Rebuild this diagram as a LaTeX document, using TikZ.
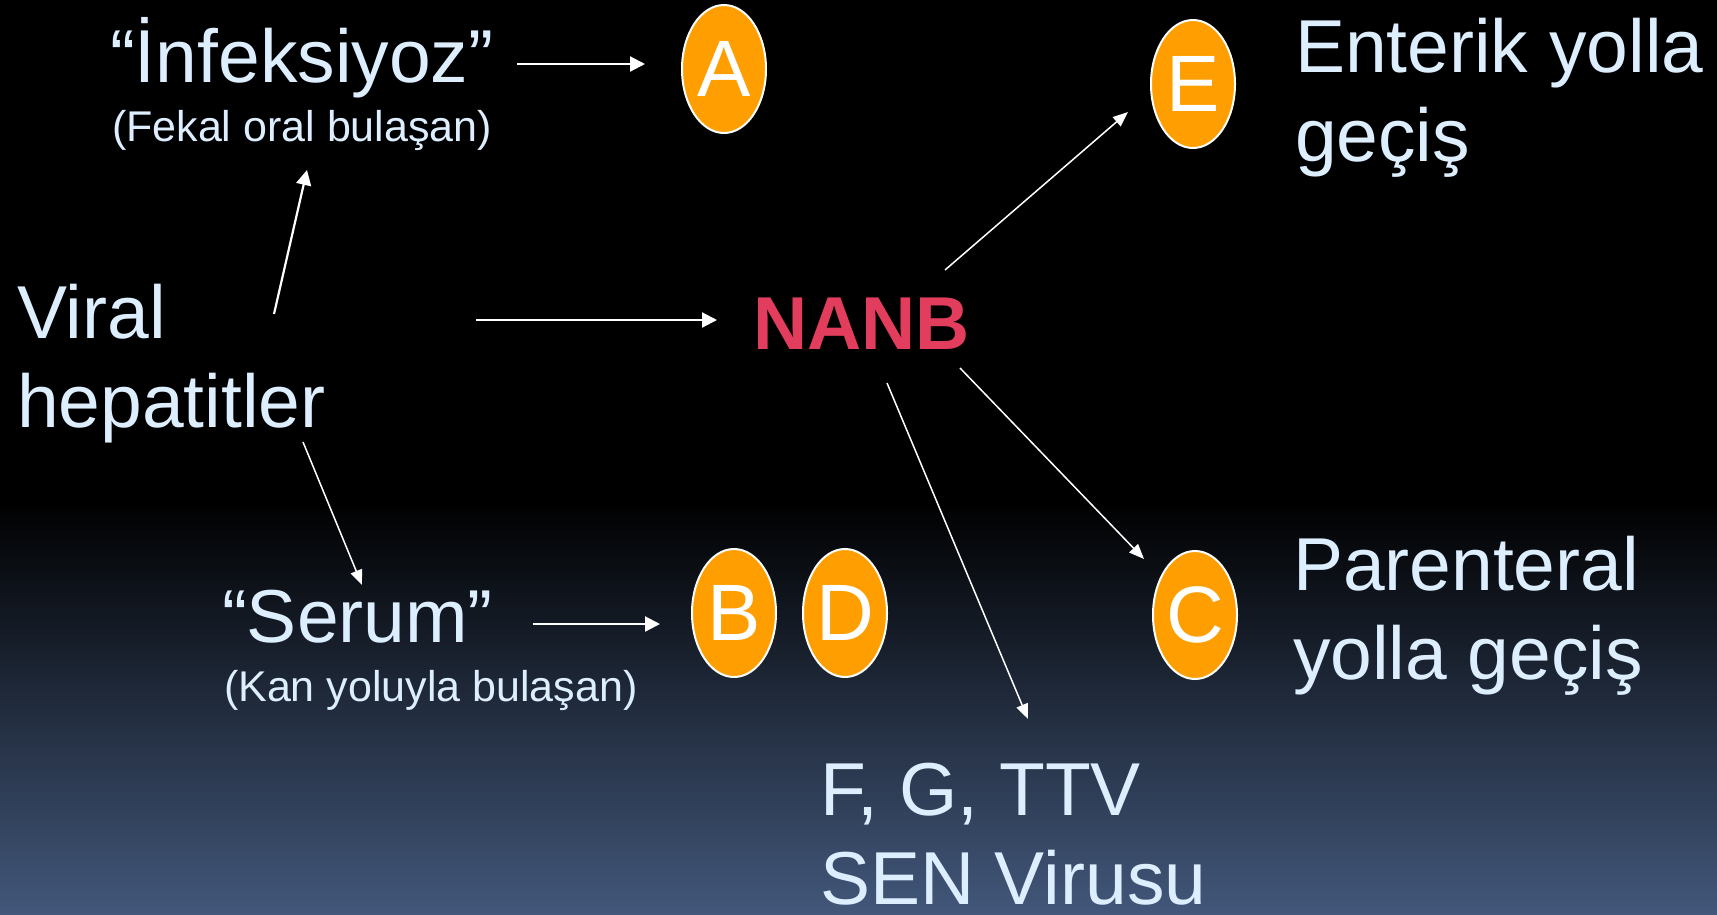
\documentclass[tikz,border=0pt]{standalone}
\usepackage{fontspec}
\setmainfont{Liberation Sans}
\usetikzlibrary{calc,arrows.meta,shapes.geometric}
\definecolor{txtc}{RGB}{221,238,255}
\definecolor{orng}{RGB}{255,158,0}
\definecolor{nanbc}{RGB}{227,61,94}
\definecolor{bgbot}{RGB}{66,87,122}
\newcommand{\twoline}[2]{\vtop{\hbox{#1}\hbox{#2}}}
\begin{document}
\begin{tikzpicture}[x=1pt,y=-1pt,
  lbl/.style={anchor=base west, inner sep=0pt, outer sep=0pt, text=txtc, font=\fontsize{75}{89}\selectfont},
  sub/.style={anchor=base west, inner sep=0pt, outer sep=0pt, text=txtc, font=\fontsize{43}{50}\selectfont},
  virus/.style={ellipse, draw=white, line width=2pt, fill=orng, minimum width=84pt, minimum height=128pt, inner sep=0pt, outer sep=0pt, text=white, font=\fontsize{80}{96}\selectfont},
  arr/.style={draw=white, line width=2.2pt, -{Triangle[length=15pt,width=15pt]}},
  arrd/.style={draw=white, line width=1.5pt, -{Triangle[length=15pt,width=12pt]}},
]
\useasboundingbox (0,0) rectangle (1717,914);
\fill[black] (0,0) rectangle (1717,500);
\shade[top color=black, bottom color=bgbot] (0,500) rectangle (1717,914);

% text nodes
\node[lbl] (inf) at (110,82) {“İnfeksiyoz”};
\node[sub] (fek) at (112,141) {(Fekal oral bulaşan)};
\node[lbl] (viral) at (17,338) {\twoline{Viral}{hepatitler}};
\node[lbl, text=nanbc, font=\fontsize{75}{89}\selectfont\bfseries] (nanb) at (753,349) {NANB};
\node[lbl] (enter) at (1295,72) {\twoline{Enterik yolla}{geçiş}};
\node[lbl] (serum) at (222,642) {“Serum”};
\node[sub] (kan) at (224,701) {(Kan yoluyla bulaşan)};
\node[lbl] (paren) at (1293,590) {\twoline{Parenteral}{yolla geçiş}};
\node[lbl] (fg) at (820,815) {\twoline{F, G, TTV}{SEN Virusu}};

% virus ellipses
\node[virus] (ea) at (724,69) {A};
\node[virus] (ee) at (1193,84) {E};
\node[virus] (eb) at (734,613) {B};
\node[virus] (ed) at (845,613) {D};
\node[virus] (ec) at (1195,615) {C};

% connectors
\draw[arr] ($(inf.base west)+(407,-18)$) -- ($(ea.west)+(-37,-5)$);
\draw[arr] ($(viral.base west)+(257,-24)$) -- ($(fek.base west)+(195,29)$);
\draw[arr] ($(viral.base west)+(459,-18)$) -- ($(nanb.base west)+(-36,-29)$);
\draw[arrd] ($(viral.base west)+(286,104)$) -- ($(serum.base west)+(140,-57)$);
\draw[arr] ($(serum.base west)+(311,-18)$) -- ($(eb.west)+(-32,11)$);
\draw[arrd] ($(nanb.base west)+(192,-79)$) -- ($(ee.west)+(-23,28)$);
\draw[arrd] ($(nanb.base west)+(207,19)$) -- ($(ec.west)+(-9,-56)$);
\draw[arrd] ($(nanb.base west)+(134,34)$) -- ($(fg.base west)+(208,-96)$);
\end{tikzpicture}
\end{document}
